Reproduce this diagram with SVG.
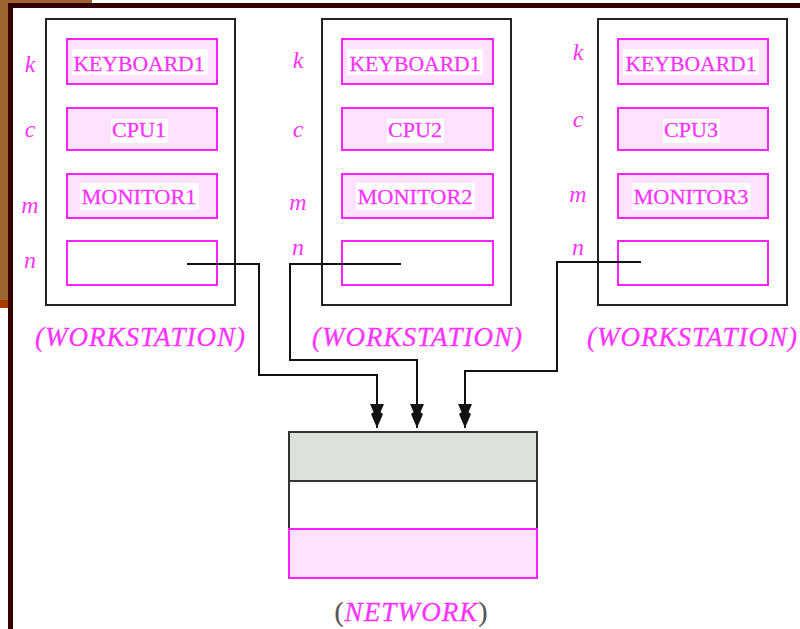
<svg xmlns="http://www.w3.org/2000/svg" width="800" height="629" viewBox="0 0 800 629">
<style>
.outer{fill:#fff;stroke:#222;stroke-width:2}
.part{fill:#ffe2ff;stroke:#ff22ff;stroke-width:2}
.empty{fill:#fff;stroke:#ff22ff;stroke-width:2}
.tbg{fill:#fff}
.lbl{font-family:"Liberation Serif",serif;font-size:22px;fill:#ff33ff;stroke:#ff33ff;stroke-width:0.3;text-anchor:middle}
.var{font-family:"Liberation Serif",serif;font-size:24px;font-style:italic;fill:#ff33ff;text-anchor:middle}
.cap{font-family:"Liberation Serif",serif;font-size:27px;font-style:italic;fill:#ff33ff;stroke:#ff33ff;stroke-width:0.3;text-anchor:middle}
.wire{fill:none;stroke:#111;stroke-width:2;marker-end:url(#ah)}
</style>
<defs>
<marker id="ah" markerUnits="userSpaceOnUse" markerWidth="30" markerHeight="20" viewBox="-26 -10 28 20" refX="0" refY="0" orient="auto">
<path d="M0,0 L-14,-6 L-16,-3.5 L-24,-7 L-24,7 L-16,3.5 L-14,6 Z" fill="#111"/>
</marker>
</defs>
<rect width="800" height="629" fill="#fff"/>
<g id="frame">
<rect x="0" y="0" width="92" height="4" fill="#9d6532"/>
<rect x="0" y="0" width="9" height="300" fill="#9d6532"/>
<rect x="0" y="300" width="9" height="8" fill="#a83c00"/>
<rect x="8" y="3" width="792" height="5" fill="#330000"/>
<rect x="8" y="3" width="5" height="626" fill="#330000"/>
</g>
<g id="ws1">
<rect class="outer" x="46" y="19" width="189" height="286"/>
<rect class="part" x="67" y="39" width="150" height="45"/>
<rect class="tbg" x="72" y="49" width="136" height="26"/>
<text class="lbl" x="139" y="71" textLength="131" lengthAdjust="spacingAndGlyphs">KEYBOARD1</text>
<rect class="part" x="67" y="108" width="150" height="42"/>
<rect class="tbg" x="111" y="119" width="57" height="24"/>
<text class="lbl" x="139" y="137">CPU1</text>
<rect class="part" x="67" y="174" width="150" height="44"/>
<rect class="tbg" x="80" y="183" width="119" height="27"/>
<text class="lbl" x="139" y="204" textLength="115" lengthAdjust="spacingAndGlyphs">MONITOR1</text>
<rect class="empty" x="67" y="241" width="150" height="44"/>
<text class="var" x="30" y="72">k</text>
<text class="var" x="30" y="137">c</text>
<text class="var" x="30" y="213">m</text>
<text class="var" x="30" y="268">n</text>
<text class="cap" x="140" y="346" textLength="210" lengthAdjust="spacing">(WORKSTATION)</text>
</g>
<g id="ws2">
<rect class="outer" x="322" y="19" width="189" height="286"/>
<rect class="part" x="342" y="39" width="151" height="45"/>
<rect class="tbg" x="347" y="49" width="136" height="26"/>
<text class="lbl" x="415" y="71" textLength="131" lengthAdjust="spacingAndGlyphs">KEYBOARD1</text>
<rect class="part" x="342" y="108" width="151" height="42"/>
<rect class="tbg" x="387" y="119" width="57" height="24"/>
<text class="lbl" x="415" y="137">CPU2</text>
<rect class="part" x="342" y="174" width="151" height="44"/>
<rect class="tbg" x="356" y="183" width="119" height="27"/>
<text class="lbl" x="415" y="204" textLength="115" lengthAdjust="spacingAndGlyphs">MONITOR2</text>
<rect class="empty" x="342" y="241" width="151" height="44"/>
<text class="var" x="298" y="68">k</text>
<text class="var" x="298" y="137">c</text>
<text class="var" x="298" y="210">m</text>
<text class="var" x="298" y="255">n</text>
<text class="cap" x="417" y="346" textLength="210" lengthAdjust="spacing">(WORKSTATION)</text>
</g>
<g id="ws3">
<rect class="outer" x="598" y="19" width="189" height="286"/>
<rect class="part" x="618" y="39" width="150" height="45"/>
<rect class="tbg" x="623" y="49" width="136" height="26"/>
<text class="lbl" x="691" y="71" textLength="131" lengthAdjust="spacingAndGlyphs">KEYBOARD1</text>
<rect class="part" x="618" y="108" width="150" height="42"/>
<rect class="tbg" x="663" y="119" width="57" height="24"/>
<text class="lbl" x="691" y="137">CPU3</text>
<rect class="part" x="618" y="174" width="150" height="44"/>
<rect class="tbg" x="632" y="183" width="119" height="27"/>
<text class="lbl" x="691" y="204" textLength="115" lengthAdjust="spacingAndGlyphs">MONITOR3</text>
<rect class="empty" x="618" y="241" width="150" height="44"/>
<text class="var" x="578" y="60">k</text>
<text class="var" x="578" y="127">c</text>
<text class="var" x="578" y="202">m</text>
<text class="var" x="578" y="255">n</text>
<text class="cap" x="692" y="346" textLength="210" lengthAdjust="spacing">(WORKSTATION)</text>
</g>
<g id="network">
<rect x="289" y="432" width="248" height="49" fill="#dde0dd" stroke="#333" stroke-width="2"/>
<rect x="289" y="481" width="248" height="48" fill="#fff" stroke="#333" stroke-width="2"/>
<rect x="289" y="529" width="248" height="49" fill="#ffe2ff" stroke="#ff22ff" stroke-width="2"/>
<text class="cap" x="411" y="621" textLength="153" lengthAdjust="spacing"><tspan fill="#555" stroke="#555" font-style="normal">(</tspan>NETWORK<tspan fill="#555" stroke="#555" font-style="normal">)</tspan></text>
</g>
<g id="connectors">
<path class="wire" d="M187,264 H259 V375 H377 V428"/>
<path class="wire" d="M401,264 H290 V360 H417 V428"/>
<path class="wire" d="M641,262 H557 V371 H465 V428"/>
</g>
</svg>
